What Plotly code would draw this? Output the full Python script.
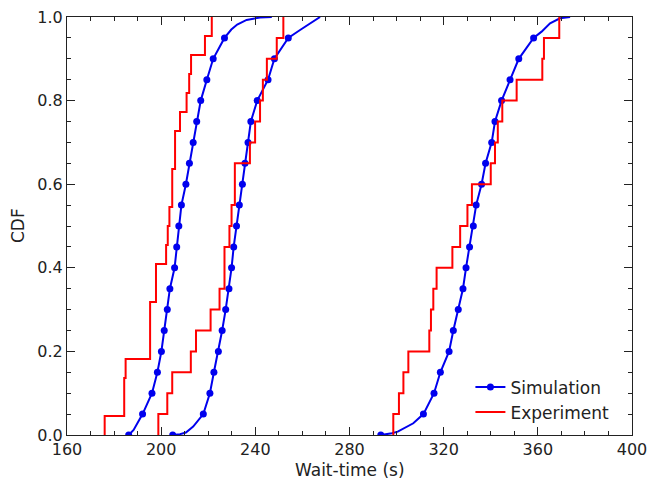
import plotly.graph_objects as go

# ---- Data ----
# Simulation CDF curves: cumulative probability and wait-time (s)
sim_a_cdf = [0.0, 0.012, 0.05, 0.10, 0.15, 0.20, 0.25, 0.30, 0.35, 0.40, 0.45, 0.50, 0.55, 0.60,
             0.65, 0.70, 0.75, 0.80, 0.85, 0.90, 0.95, 0.97, 0.982, 0.993, 0.999, 1.0]
sim_a_x = [186.2, 188.3, 192.1, 196.1, 198.4, 200.1, 201.3, 202.6, 203.7, 205.7, 206.6, 207.5, 208.6, 210.5,
           212.0, 213.6, 215.1, 216.8, 219.4, 222.1, 226.9, 229.8, 232.3, 236.3, 242.0, 247.0]

sim_b_cdf = [0.0, 0.002, 0.006, 0.02, 0.05, 0.10, 0.15, 0.20, 0.25, 0.30, 0.35, 0.40, 0.45, 0.50, 0.55,
             0.60, 0.65, 0.70, 0.75, 0.80, 0.85, 0.90, 0.95, 0.969, 0.985, 1.0]
sim_b_x = [204.9, 208.0, 210.5, 213.6, 217.9, 220.7, 222.4, 224.3, 225.9, 227.4, 228.8, 229.9, 230.8, 232.0, 233.2,
           234.5, 235.6, 236.9, 238.1, 240.8, 245.4, 248.1, 254.0, 259.0, 263.2, 267.5]

sim_c_cdf = [0.0, 0.004, 0.008, 0.016, 0.028, 0.05, 0.10, 0.15, 0.20, 0.25, 0.30, 0.35, 0.40, 0.45, 0.50,
             0.55, 0.60, 0.65, 0.70, 0.75, 0.80, 0.85, 0.90, 0.95, 0.965, 0.985, 0.997, 1.0]
sim_c_x = [293.3, 298.0, 300.5, 302.9, 307.1, 311.4, 315.9, 318.6, 322.3, 324.1, 326.2, 328.2, 329.5, 331.0, 332.6,
           333.8, 336.1, 337.8, 340.4, 341.8, 344.6, 348.2, 351.9, 358.2, 361.6, 365.2, 369.4, 373.7]

# Experiment samples (wait-time, s) -> empirical CDF steps
exp_a = [176.0, 184.3, 184.3, 184.9, 195.3, 195.3, 195.3, 197.8, 197.8, 202.1, 202.8,
         203.5, 204.7, 204.7, 205.9, 205.9, 208.0, 210.8, 211.9, 212.7, 218.6, 221.5]
exp_b = [198.8, 202.6, 204.7, 212.6, 214.8, 221.0, 224.8, 226.9, 226.9, 229.0,
         229.9, 231.3, 231.3, 237.7, 239.9, 242.0, 243.2, 244.9, 249.1, 251.9]
exp_c = [298.6, 301.0, 302.9, 305.0, 313.9, 314.6, 315.6, 317.0, 323.7, 327.0,
         330.1, 332.0, 340.0, 341.8, 343.0, 344.9, 351.0, 361.9, 362.6, 369.1]

x_ticks = [160, 200, 240, 280, 320, 360, 400]
y_ticks = [0.0, 0.2, 0.4, 0.6, 0.8, 1.0]

BLUE = "#0000ee"
RED = "#ff0000"
FONT = "DejaVu Sans"
INK = "#222222"

fig = go.Figure()

# legend entries
fig.add_trace(go.Scatter(x=[None], y=[None], mode="lines+markers", name="Simulation",
                         line=dict(color=BLUE, width=2), marker=dict(color=BLUE, size=7)))
fig.add_trace(go.Scatter(x=[None], y=[None], mode="lines", name="Experiment",
                         line=dict(color=RED, width=2)))

for cdf, xs in [(sim_a_cdf, sim_a_x), (sim_b_cdf, sim_b_x), (sim_c_cdf, sim_c_x)]:
    fig.add_trace(go.Scatter(x=xs, y=cdf, mode="lines", showlegend=False,
                             line=dict(color=BLUE, width=2)))
    mk = [(x, c) for x, c in zip(xs, cdf) if abs(c / 0.05 - round(c / 0.05)) < 1e-6 and c < 1.0]
    fig.add_trace(go.Scatter(x=[m[0] for m in mk], y=[m[1] for m in mk], mode="markers",
                             showlegend=False, marker=dict(color=BLUE, size=7)))

for samples in [exp_a, exp_b, exp_c]:
    n = len(samples)
    s = sorted(samples)
    xs = [s[0]] + s
    ys = [0.0] + [(i + 1) / n for i in range(n)]
    fig.add_trace(go.Scatter(x=xs, y=ys, mode="lines", line_shape="hv", showlegend=False,
                             line=dict(color=RED, width=2)))

axis_common = dict(
    showline=True, linecolor=INK, linewidth=1.2, mirror="ticks",
    ticks="inside", ticklen=8, tickwidth=1, tickcolor=INK,
    showgrid=False, zeroline=False, automargin=False,
    tickfont=dict(family=FONT, size=16, color=INK),
)

fig.update_xaxes(range=[160, 400], tickvals=x_ticks, ticktext=[str(v) for v in x_ticks],
                 minor=dict(dtick=10, ticks="inside", ticklen=4, tickcolor=INK, showgrid=False),
                 **axis_common)
fig.update_yaxes(range=[0, 1], tickvals=y_ticks, ticktext=[f"{v:.1f}" for v in y_ticks],
                 minor=dict(dtick=0.05, ticks="inside", ticklen=4, tickcolor=INK, showgrid=False),
                 **axis_common)

# axis titles as paper-anchored annotations
fig.add_annotation(text="Wait-time (s)", xref="paper", yref="paper", x=0.5, y=0,
                   yshift=-35, yanchor="middle", showarrow=False,
                   font=dict(family=FONT, size=17, color=INK))
fig.add_annotation(text="CDF", xref="paper", yref="paper", x=0, y=0.5, textangle=-90,
                   xshift=-49, xanchor="center", showarrow=False,
                   font=dict(family=FONT, size=17, color=INK))

fig.update_layout(
    width=648, height=481,
    margin=dict(l=67, r=16, t=17, b=46),
    paper_bgcolor="white", plot_bgcolor="white",
    font=dict(family=FONT, size=16, color=INK),
    legend=dict(x=0.714, y=0.157, xanchor="left", yanchor="top",
                bgcolor="rgba(0,0,0,0)", borderwidth=0,
                font=dict(family=FONT, size=17, color=INK)),
)

fig.write_html("out.html")
